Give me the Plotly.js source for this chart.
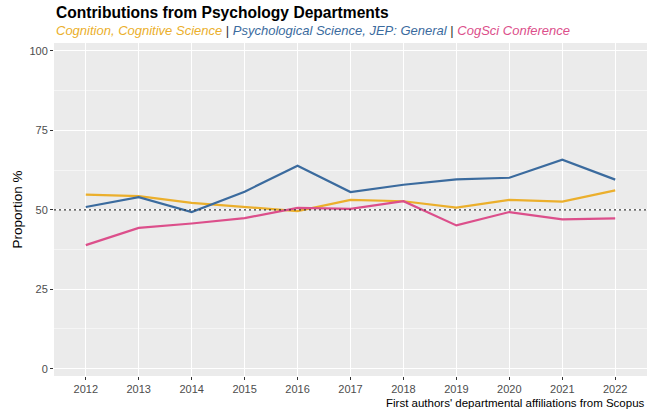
<!DOCTYPE html>
<html>
<head>
<meta charset="utf-8">
<script src="https://cdn.plot.ly/plotly-3.0.1.min.js"></script>
<style>html,body{margin:0;padding:0;background:#fff;}#chart{width:655px;height:414px;}</style>
</head>
<body>
<div id="chart"></div>
<script>
const years = [2012, 2013, 2014, 2015, 2016, 2017, 2018, 2019, 2020, 2021, 2022];
const cognition = [54.8, 54.3, 52.2, 50.8, 49.6, 53.1, 52.7, 50.7, 53.1, 52.6, 56.1];
const psychSci = [50.9, 54.0, 49.3, 55.7, 63.9, 55.6, 57.9, 59.6, 60.1, 65.8, 59.5];
const cogsci = [38.9, 44.3, 45.7, 47.4, 50.6, 50.3, 52.7, 45.1, 49.3, 47.0, 47.3];
const seriesNames = ["Cognition, Cognitive Science", "Psychological Science, JEP: General", "CogSci Conference"];
const yTicks = [0, 25, 50, 75, 100];
const refLine = 50;

const colors = ["#EBAF2C", "#3B6B9E", "#DC4F8B"];
const values = [cognition, psychSci, cogsci];

const traces = values.map((v, i) => ({
  type: "scatter", mode: "lines", x: years, y: v, name: seriesNames[i],
  line: {color: colors[i], width: 2.2}, hoverinfo: "x+y+name"
}));

const subtitle = seriesNames.map((n, i) =>
  '<span style="color:' + colors[i] + '"><i>' + n + '</i></span>'
).join('<span style="color:#333333"> | </span>');

const FONT = "Liberation Sans, Arial, sans-serif";

const layout = {
  width: 655, height: 414,
  margin: {l: 54, r: 8, t: 43, b: 38},
  paper_bgcolor: "#ffffff", plot_bgcolor: "#EBEBEB",
  showlegend: false,
  font: {family: FONT, color: "#4D4D4D"},
  xaxis: {
    range: [2011.4, 2022.6], tickvals: years, ticktext: years.map(String),
    showgrid: true, gridcolor: "#ffffff", gridwidth: 1.1, zeroline: false,
    ticks: "outside", ticklen: 3, tickcolor: "#333333", tickwidth: 1,
    tickfont: {size: 11, color: "#4D4D4D"}, showline: false
  },
  yaxis: {
    range: [-2.3, 102.5], tickvals: yTicks, ticktext: yTicks.map(String),
    showgrid: true, gridcolor: "#ffffff", gridwidth: 1.1, zeroline: false,
    ticks: "outside", ticklen: 3, tickcolor: "#333333", tickwidth: 1,
    tickfont: {size: 11, color: "#4D4D4D"},
    minor: {tick0: 12.5, dtick: 25, showgrid: true, gridcolor: "#ffffff", gridwidth: 0.5, ticks: ""},
    title: {text: "Proportion %", font: {size: 13.5, color: "#000000"}, standoff: 3}
  },
  shapes: [{
    type: "line", xref: "paper", x0: 0, x1: 1, yref: "y", y0: refLine, y1: refLine,
    line: {color: "#3a3a3a", width: 1.3, dash: "2px,3px"}, layer: "above"
  }],
  annotations: [
    {text: "<b>Contributions from Psychology Departments</b>", xref: "paper", x: 0, xanchor: "left",
     yref: "paper", y: 1, yanchor: "bottom", yshift: 20, showarrow: false,
     font: {size: 15.6, color: "#000000", family: FONT}},
    {text: subtitle, xref: "paper", x: 0, xanchor: "left", yref: "paper", y: 1, yanchor: "bottom",
     yshift: 3, showarrow: false, font: {size: 13, family: FONT}},
    {text: "First authors' departmental affiliations from Scopus", xref: "paper", x: 1, xanchor: "right",
     yref: "paper", y: 0, yanchor: "top", yshift: -19, showarrow: false,
     font: {size: 11.5, color: "#000000", family: FONT}}
  ]
};

Plotly.newPlot("chart", traces, layout, {displayModeBar: false, staticPlot: true});
</script>
</body>
</html>
